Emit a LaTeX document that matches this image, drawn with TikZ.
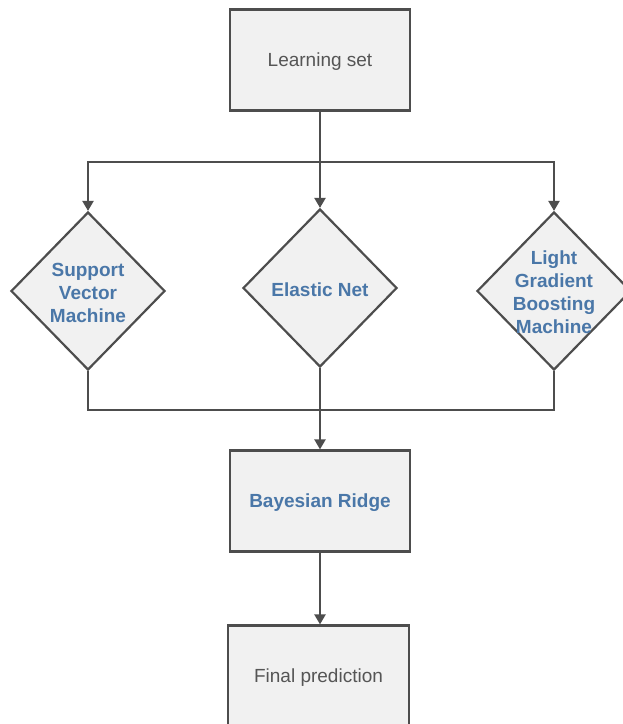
\documentclass[tikz,border=0pt]{standalone}
\usepackage{fontspec}
\setmainfont{Liberation Sans}
\usetikzlibrary{shapes.geometric,arrows.meta}
\definecolor{edgegray}{HTML}{4D4D4D}
\definecolor{boxfill}{HTML}{F1F1F1}
\definecolor{txtblue}{HTML}{4A77A8}
\definecolor{txtgray}{HTML}{555555}
\begin{document}
\begin{tikzpicture}[x=1pt,y=-1pt,
  box/.style={draw=edgegray,fill=boxfill,line width=2.2pt,minimum width=180pt,minimum height=101pt,inner sep=0pt,text depth=-2.5pt,font=\fontsize{19}{23}\selectfont},
  dia/.style={draw=edgegray,fill=boxfill,line width=2.2pt,diamond,minimum width=154pt,minimum height=158pt,inner sep=0pt},
  dlab/.style={text=txtblue,font=\fontsize{19}{23}\selectfont\bfseries,align=center,yshift=-1.5pt},
  conn/.style={draw=edgegray,line width=2.2pt},
  arr/.style={conn,-{Triangle[length=10pt,width=11pt]}}
]
\clip (0,0) rectangle (623,724);
\fill[white] (0,0) rectangle (623,724);
\node[box,text=txtgray] (learn) at (320,60) {Learning set};
\node[dia,label={[dlab]center:Support\\Vector\\Machine}] (svm) at (88,291) {};
\node[dia,label={[dlab]center:Elastic Net}] (en) at (320,288) {};
\node[dia,label={[dlab]center:Light\\Gradient\\Boosting\\Machine}] (lgbm) at (554,291) {};
\node[box,text=txtblue,font=\fontsize{19}{23}\selectfont\bfseries] (br) at (320,501) {Bayesian Ridge};
\node[box,text=txtgray,minimum width=181pt] (final) at (318.5,676) {Final prediction};
\coordinate (split) at (320,162);
\coordinate (merge) at (320,410);
\draw[conn] (learn.south) -- (split);
\draw[arr] (split) -| (svm.north);
\draw[arr] (split) -- (en.north);
\draw[arr] (split) -| (lgbm.north);
\draw[conn] (svm.south) |- (merge);
\draw[conn] (lgbm.south) |- (merge);
\draw[arr] (en.south) -- (br.north);
\draw[arr] (br.south) -- (br.south |- final.north);
\end{tikzpicture}
\end{document}
